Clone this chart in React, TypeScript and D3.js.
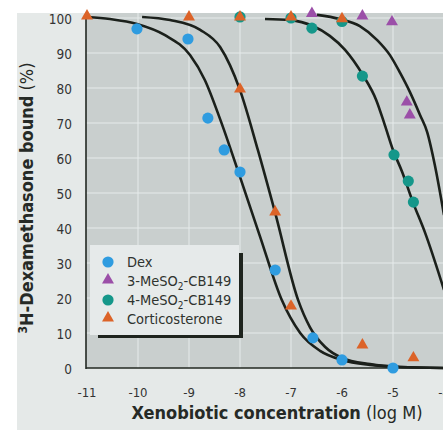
import React, { useEffect, useRef } from 'react';
import * as d3 from 'd3';

interface Pt {
  x: number;
  y: number;
}

// measured points (log M, % bound)
const dexPoints: Pt[] = [
  { x: -10.02, y: 96.9 },
  { x: -9.02, y: 94 },
  { x: -8.63, y: 71.4 },
  { x: -8.31, y: 62.3 },
  { x: -8.0, y: 56 },
  { x: -7.31, y: 28 },
  { x: -6.57, y: 8.6 },
  { x: -6.0, y: 2.3 },
  { x: -5.0, y: 0 },
];

const meso3Points: Pt[] = [
  { x: -6.59, y: 101 },
  { x: -5.6, y: 100.3 },
  { x: -5.02, y: 98.6 },
  { x: -4.73, y: 75.7 },
  { x: -4.67, y: 72 },
];

const meso4Points: Pt[] = [
  { x: -8.0, y: 100.3 },
  { x: -7.0, y: 100 },
  { x: -6.59, y: 97.1 },
  { x: -6.0, y: 99 },
  { x: -5.6, y: 83.4 },
  { x: -4.98, y: 60.9 },
  { x: -4.7, y: 53.4 },
  { x: -4.6, y: 47.4 },
];

const cortPoints: Pt[] = [
  { x: -11, y: 100.3 },
  { x: -9.0, y: 100 },
  { x: -8.0, y: 100 },
  { x: -7.0, y: 100 },
  { x: -6.0, y: 99.5 },
  { x: -8.0, y: 79.4 },
  { x: -7.31, y: 44.3 },
  { x: -7.0, y: 17.4 },
  { x: -5.6, y: 6.3 },
  { x: -4.6, y: 2.6 },
];

// fitted curves
const dexCurve: Pt[] = [
  { x: -11, y: 100.3 }, { x: -10.55, y: 99.7 }, { x: -10.02, y: 98.3 },
  { x: -9.47, y: 95.1 }, { x: -8.98, y: 89.4 }, { x: -8.69, y: 82.3 },
  { x: -8.39, y: 71.1 }, { x: -8.0, y: 54.6 }, { x: -7.61, y: 37.7 },
  { x: -7.18, y: 19.4 }, { x: -6.82, y: 10 }, { x: -6.43, y: 4.9 },
  { x: -6.0, y: 2.3 }, { x: -5.45, y: 0.9 }, { x: -4.86, y: 0.3 }, { x: -4.0, y: 0 },
];

const cortCurve: Pt[] = [
  { x: -9.92, y: 100.3 }, { x: -9.37, y: 99.4 }, { x: -8.78, y: 96.6 },
  { x: -8.39, y: 91.7 }, { x: -8.0, y: 79.4 }, { x: -7.65, y: 62.3 },
  { x: -7.31, y: 44.3 }, { x: -6.86, y: 19.4 }, { x: -6.63, y: 11.7 },
  { x: -6.33, y: 6 }, { x: -6.0, y: 2.9 }, { x: -5.45, y: 1.1 },
  { x: -4.86, y: 0.3 }, { x: -4.0, y: 0 },
];

const meso4Curve: Pt[] = [
  { x: -7.51, y: 99.7 }, { x: -7.02, y: 99.4 }, { x: -6.57, y: 97.7 },
  { x: -6.24, y: 94.9 }, { x: -5.94, y: 90.9 }, { x: -5.59, y: 83.7 },
  { x: -5.33, y: 76.6 }, { x: -5.16, y: 69.4 }, { x: -5.0, y: 62.3 },
  { x: -4.82, y: 56 }, { x: -4.61, y: 47.4 }, { x: -4.37, y: 38.6 }, { x: -4.0, y: 22.3 },
];

const meso3Curve: Pt[] = [
  { x: -6.49, y: 100.9 }, { x: -6.04, y: 99.7 }, { x: -5.65, y: 97.7 },
  { x: -5.31, y: 93.7 }, { x: -5.06, y: 89.4 }, { x: -4.86, y: 84.3 },
  { x: -4.67, y: 78.9 }, { x: -4.47, y: 72.3 }, { x: -4.33, y: 67.4 },
  { x: -4.18, y: 58 }, { x: -4.0, y: 43.7 },
];

const xTicks = [-11, -10, -9, -8, -7, -6, -5, -4];
const yTicks = [0, 10, 20, 30, 40, 50, 60, 70, 80, 90, 100];

const BLUE = '#2f9ce0';
const PURPLE = '#9b4fa8';
const TEAL = '#15978a';
const ORANGE = '#dc6328';

const FONT = "'Liberation Sans Narrow', 'DejaVu Sans Condensed', 'Roboto', sans-serif";

const App: React.FC = () => {
  const svgRef = useRef<SVGSVGElement>(null);

  useEffect(() => {
    if (!svgRef.current) return;
    const W = 443;
    const H = 430;
    const svg = d3.select(svgRef.current).attr('width', W).attr('height', H);
    svg.selectAll('*').remove();

    const x = d3.scaleLinear().domain([-11, -5]).range([87, 393]);
    const y = d3.scaleLinear().domain([0, 100]).range([368, 18]);

    const plotLeft = 86;
    const plotTop = 13;

    // outer panel + plot background
    svg.append('rect').attr('x', 17).attr('y', 13).attr('width', W - 17).attr('height', H - 13).attr('fill', '#e5e9e8');
    svg.append('rect').attr('x', plotLeft).attr('y', plotTop).attr('width', W - plotLeft).attr('height', y(0) - plotTop).attr('fill', '#c9cfce');

    // grid
    const grid = svg.append('g').attr('stroke', '#e6ebeb').attr('stroke-width', 1);
    grid.selectAll('line.h').data(yTicks.filter((d) => d > 0)).enter().append('line')
      .attr('x1', plotLeft).attr('x2', W).attr('y1', (d) => y(d)).attr('y2', (d) => y(d));
    grid.selectAll('line.v').data(xTicks.filter((d) => d > -11)).enter().append('line')
      .attr('y1', plotTop).attr('y2', y(0)).attr('x1', (d) => x(d)).attr('x2', (d) => x(d));

    // axis lines
    svg.append('line').attr('x1', plotLeft).attr('x2', plotLeft).attr('y1', y(100)).attr('y2', y(0) + 1)
      .attr('stroke', '#222822').attr('stroke-width', 1.6);
    svg.append('line').attr('x1', plotLeft).attr('x2', W).attr('y1', y(0)).attr('y2', y(0))
      .attr('stroke', '#222822').attr('stroke-width', 1.6);

    // tick labels
    svg.append('g').selectAll('text').data(yTicks).enter().append('text')
      .attr('x', 72).attr('y', (d) => y(d) + 2).attr('text-anchor', 'end').attr('dominant-baseline', 'middle')
      .attr('font-family', FONT).attr('font-size', 13.5).attr('fill', '#333')
      .text((d) => d);
    svg.append('g').selectAll('text').data(xTicks).enter().append('text')
      .attr('x', (d) => x(d)).attr('y', 393).attr('text-anchor', 'middle').attr('dominant-baseline', 'middle')
      .attr('font-family', FONT).attr('font-size', 13).attr('fill', '#333')
      .text((d) => d);

    // axis titles
    const xt = svg.append('text').attr('x', 277).attr('y', 419).attr('text-anchor', 'middle')
      .attr('font-family', FONT).attr('font-size', 18).attr('fill', '#262a26');
    xt.append('tspan').attr('font-weight', 'bold').text('Xenobiotic concentration');
    xt.append('tspan').text(' (log M)');

    const yt = svg.append('text').attr('transform', 'translate(33,198) rotate(-90)').attr('text-anchor', 'middle')
      .attr('font-family', FONT).attr('font-size', 18).attr('fill', '#262a26');
    yt.append('tspan').attr('font-weight', 'bold').attr('font-size', 12).attr('dy', -6).text('3');
    yt.append('tspan').attr('font-weight', 'bold').attr('dy', 6).text('H-Dexamethasone bound');
    yt.append('tspan').text(' (%)');

    // curves
    const line = d3.line<Pt>().x((d) => x(d.x)).y((d) => y(d.y)).curve(d3.curveMonotoneX);
    const curves = svg.append('g').attr('fill', 'none').attr('stroke', '#1b201b').attr('stroke-width', 2.6);
    [dexCurve, cortCurve, meso4Curve, meso3Curve].forEach((c) => {
      curves.append('path').attr('d', line(c));
    });

    const tri = d3.symbol().type(d3.symbolTriangle).size(62);

    const drawCircles = (data: Pt[], color: string) => {
      svg.append('g').selectAll('circle').data(data).enter().append('circle')
        .attr('cx', (d) => x(d.x)).attr('cy', (d) => y(d.y)).attr('r', 5.6).attr('fill', color);
    };
    const drawTris = (data: Pt[], color: string) => {
      svg.append('g').selectAll('path').data(data).enter().append('path')
        .attr('d', tri).attr('transform', (d) => `translate(${x(d.x)},${y(d.y) - 1})`).attr('fill', color);
    };

    drawCircles(dexPoints, BLUE);
    drawTris(meso3Points, PURPLE);
    drawCircles(meso4Points, TEAL);
    drawTris(cortPoints, ORANGE);

    // legend
    const lg = svg.append('g');
    lg.append('rect').attr('x', 98).attr('y', 253).attr('width', 145).attr('height', 85).attr('fill', '#1e241e');
    lg.append('rect').attr('x', 90).attr('y', 245).attr('width', 149).attr('height', 90).attr('fill', '#e6eaea');

    const items = [
      { label: 'Dex', color: BLUE, shape: 'circle', sub: false },
      { label: '3-MeSO', color: PURPLE, shape: 'tri', sub: true },
      { label: '4-MeSO', color: TEAL, shape: 'circle', sub: true },
      { label: 'Corticosterone', color: ORANGE, shape: 'tri', sub: false },
    ];
    items.forEach((it, i) => {
      const cy = 262 + i * 19;
      if (it.shape === 'circle') {
        lg.append('circle').attr('cx', 108).attr('cy', cy).attr('r', 5.6).attr('fill', it.color);
      } else {
        lg.append('path').attr('d', tri).attr('transform', `translate(108,${cy - 1})`).attr('fill', it.color);
      }
      const t = lg.append('text').attr('x', 127).attr('y', cy + 5).attr('font-family', FONT)
        .attr('font-size', 14.5).attr('fill', '#2f332f');
      t.append('tspan').text(it.label);
      if (it.sub) {
        t.append('tspan').attr('font-size', 10).attr('dy', 4).text('2');
        t.append('tspan').attr('dy', -4).text('-CB149');
      }
    });
  }, []);

  return (
    <div>
      <svg ref={svgRef} style={{ position: 'absolute', left: 0, top: 0, background: '#fff' }}></svg>
    </div>
  );
};

export default App;
